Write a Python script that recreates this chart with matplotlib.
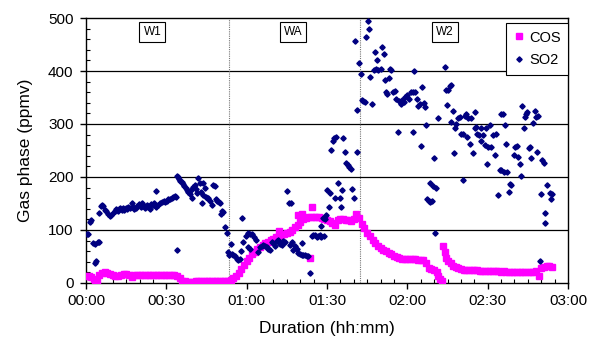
import numpy as np
import matplotlib.pyplot as plt
from matplotlib.ticker import MultipleLocator, FuncFormatter

plt.rcParams['font.family'] = ['Liberation Sans', 'DejaVu Sans']

# COS (time in minutes, ppmv)
cos_t = [0, 1, 2, 3, 3.5, 4, 5, 6, 7, 8, 9, 10, 11, 12, 13, 14, 15, 16, 17, 18,
         19, 20, 21, 22, 23, 24, 25, 26, 27, 28, 29, 30, 31, 32, 33, 34, 35, 36,
         37, 38, 39, 40, 41, 42, 43, 44, 45, 46, 47, 48, 49, 50, 51, 52, 53, 54,
         55, 56, 57, 58, 59, 60, 61, 62, 63, 64, 65, 66, 67, 68, 69, 70, 71, 72,
         73, 74, 75, 76, 77, 78, 79, 80, 81, 82, 83, 84, 85, 86, 87, 88, 89, 90,
         91, 92, 93, 94, 95, 96, 97, 98, 99, 100, 101, 102, 103, 104, 105, 106,
         107, 108, 109, 110, 111, 112, 113, 114, 115, 116, 117, 118, 119, 120,
         121, 122, 123, 124, 125, 126, 127, 128, 129, 130, 131, 131.6, 132.2,
         132.8, 133.4, 134, 134.6, 135.3, 136.2, 137, 138, 139, 140, 141, 142,
         143, 144, 145, 146, 147, 148, 149, 150, 151, 152, 153, 154, 155, 156,
         157, 158, 159, 160, 161, 162, 163, 164, 165, 166, 167, 168, 169, 170,
         171, 172, 173, 174]
cos_v = [13, 13, 12, 8, 5, 4, 15, 19, 20, 18, 17, 15, 13, 14, 16, 17, 17, 16,
         12, 15, 16, 16, 16, 15, 15, 15, 16, 15, 15, 15, 15, 15, 15, 15, 15, 14,
         9, 4, 3, 2, 2, 2, 3, 3, 3, 4, 4, 4, 4, 4, 3, 3, 3, 3, 4, 6, 9, 14, 18,
         26, 34, 42, 47, 55, 59, 65, 68, 72, 75, 78, 81, 83, 86, 89, 91, 92, 94,
         96, 100, 106, 110, 116, 121, 122, 124, 125, 125, 125, 124, 122, 120,
         119, 117, 113, 110, 118, 120, 121, 119, 118, 117, 120, 130, 122, 112,
         103, 95, 88, 81, 75, 70, 66, 63, 60, 57, 54, 51, 49, 47, 46, 45, 45,
         45, 45, 45, 44, 44, 43, 38, 29, 26, 24, 21, 14, 8, 3, 70, 59, 47, 41,
         37, 33, 31, 29, 27, 25, 25, 24, 25, 24, 24, 23, 23, 23, 23, 22, 23, 22,
         22, 21, 22, 21, 21, 21, 20, 21, 20, 20, 20, 21, 21, 21, 22, 13, 29, 30,
         32, 32, 31]
cos_out_t = [72.2, 79.3, 80.8, 83.6, 84.3]
cos_out_v = [99, 128, 130, 47, 143]

# SO2 (time in minutes, ppmv)
so2_t = [0.3, 0.7, 1.5, 2.0, 2.7, 3.2, 3.4, 3.7, 4.3, 4.8, 5.0, 5.6, 6.0, 6.5,
         7.0, 7.6, 8.2, 8.8, 9.5, 10.2, 10.8, 11.3, 11.8, 12.3, 12.8, 13.3,
         13.8, 14.3, 14.8, 15.3, 15.8, 16.4, 17.0, 17.5, 18.0, 18.6, 19.2, 19.8,
         20.4, 21.0, 21.5, 22.0, 22.6, 23.2, 23.8, 24.3, 24.9, 25.5, 26.0, 26.3,
         27.0, 27.6, 28.3, 29.0, 29.6, 30.2, 30.8, 31.4, 32.0, 32.6, 33.2, 33.6,
         34.0,
         33.9, 34.3, 34.7, 35.2, 35.7, 36.2, 36.7, 37.2, 37.7, 38.2, 38.7, 39.2,
         39.6, 40.1, 40.6, 41.1, 41.5, 41.9, 42.4, 42.8, 43.2, 43.6, 43.8, 44.3,
         44.8, 45.3, 45.7, 46.2, 46.9, 47.4, 48.1, 48.5, 49.0, 49.6, 50.1, 50.3,
         50.7, 51.3, 51.9, 52.5, 53.1, 53.5, 54.1, 54.6, 55.0, 55.6, 56.2, 56.9,
         57.4, 57.8, 58.4, 58.7, 59.6, 60.4, 60.4, 61.2, 61.2, 62.1, 62.7, 63.5,
         64.3, 65.0, 65.6, 66.2, 66.8, 67.5, 68.1, 68.7, 69.3, 69.9, 70.6, 71.2,
         71.8, 72.5, 73.1, 73.7, 74.3, 75.2, 75.9, 76.4, 76.2, 76.9, 77.4, 78.1,
         78.7, 79.3, 79.9, 80.5, 80.6, 81.2, 81.8, 82.4, 83.0, 83.6, 84.3, 84.9,
         85.5, 86.1, 86.6, 87.3, 87.6, 87.9, 88.4, 88.9, 89.4, 89.7, 90.1, 90.6,
         91.0, 91.6, 92.2, 92.6, 93.1, 93.5, 94.1, 94.7, 95.1, 95.6, 96.0, 96.6,
         97.2, 97.7, 98.2, 98.8, 99.4, 100.1, 100.4, 101.1, 101.3, 102.1, 102.6,
         103.1, 103.6, 104.1, 104.6, 105.3, 105.6, 106.2, 106.8, 107.5, 108.0,
         108.3, 108.7, 109.2, 110.0, 110.5, 111.2, 111.5, 111.9, 112.5, 113.0,
         113.4, 114.0, 114.6, 115.3, 115.9, 116.5, 116.8, 117.5, 118.0, 118.7,
         119.2, 120.0, 120.5, 121.2, 122.1, 122.1, 122.5, 123.0, 123.5, 124.0,
         124.6, 125.0, 125.5, 126.2, 126.5, 127.1, 127.5, 128.0, 128.3, 128.6,
         129.1, 129.6, 130.0, 130.5, 130.8, 131.4, 133.9, 134.5, 134.9, 135.2,
         135.8, 136.2, 136.4, 137.0, 137.4, 137.7, 138.3, 138.9, 139.5, 140.1,
         140.8, 140.8, 141.4, 142.0, 142.4, 142.6, 143.3, 143.9, 144.5, 145.1,
         145.4, 145.8, 146.1, 146.6, 147.4, 147.6, 148.2, 148.9, 149.5, 149.9,
         150.1, 150.7, 151.4, 152.0, 152.6, 153.2, 153.8, 154.5, 154.8, 155.1,
         155.7, 156.1, 156.3, 156.9, 157.3, 157.8, 158.2, 158.8, 159.8, 160.3,
         160.8, 161.3, 161.9, 162.3, 162.8, 163.6, 164.0, 164.4, 164.8, 165.3,
         165.8, 166.3, 166.9, 167.5, 168.2, 168.3, 168.8, 169.4, 169.8, 170.3,
         171.0, 171.3, 171.5, 172.3, 173.1, 173.5, 174.0]
so2_v = [92, 93, 116, 118, 76, 74, 38, 42, 77, 78, 132, 145, 148, 146, 138,
         136, 130, 126, 128, 132, 135, 139, 136, 140, 141, 138, 142, 137, 142,
         140, 144, 141, 151, 143, 139, 142, 146, 149, 144, 150, 146, 141, 147,
         143, 140, 149, 147, 151, 143, 173, 148, 150, 152, 154, 153, 155, 158,
         159, 161, 162, 164, 162, 62,
         202, 200, 197, 193, 190, 186, 183, 180, 176, 172, 168, 175, 160, 182,
         185, 178, 170, 198, 188, 172, 150, 166, 189, 180, 163, 161, 160, 155,
         148, 185, 183, 158, 155, 152, 150, 131, 136, 134, 106, 94, 59, 53, 74,
         55, 53, 50, 46, 44, 45, 61, 122, 78, 89, 94, 68, 93, 65, 93, 87, 81, 59,
         68, 70, 72, 70, 68, 65, 62, 78, 75, 70, 80, 81, 74, 72, 80, 78, 174,
         150, 150, 72, 77, 62, 70, 64, 56, 54, 75, 53, 53, 52, 50, 50, 18, 88,
         91, 90, 86, 89, 91, 108, 87, 122, 89, 120, 128, 175, 144, 169, 251,
         267, 273, 160, 276, 188, 160, 144, 175, 273, 248, 226, 222, 219, 216,
         177, 160, 457, 326, 247, 415, 394, 345, 343, 342, 465, 495, 480, 389,
         338, 402, 436, 403, 421, 402, 403, 445, 433, 383, 361, 356, 387, 403,
         402, 361, 363, 347, 285, 344, 338, 345, 342, 350, 355, 347, 361, 361,
         284, 400, 361, 347, 334, 338, 258, 369, 340, 333, 299, 158, 154, 188,
         152, 155, 183, 236, 95, 179, 312, 407, 364, 336, 365, 372, 374, 304,
         325, 246, 292, 300, 311, 313, 282, 282, 194, 315, 319, 275, 311, 262,
         311, 245, 292, 323, 295, 282, 279, 267, 292, 279, 260, 292, 225, 257,
         298, 257, 279, 242, 281, 166, 214, 319, 213, 319, 210, 298, 262, 210,
         172, 187, 185, 242, 257, 258, 238, 225, 202, 334, 292, 313, 319, 323,
         254, 257, 235, 302, 325, 314, 248, 315, 42, 168, 232, 227, 133, 113,
         185, 169, 158, 168]

# window markers and their labels
window_lines = [53.4, 102.3]
window_names = ['W1', 'WA', 'W2']
window_pos = [24.8, 77.3, 134.1]

fig = plt.figure(figsize=(5.9, 3.39), dpi=100)
ax = fig.add_axes([0.1458, 0.1652, 0.8169, 0.7817])

for y in [100, 200, 300, 400]:
    ax.axhline(y, color='black', lw=0.9, zorder=1)
for x in window_lines:
    ax.axvline(x, color='#777777', lw=0.8, ls=(0, (1, 1)), zorder=1)

ax.plot(cos_t, cos_v, ls='none', marker='s', ms=4.1, color='#FF00FF',
        mec='#FF00FF', label='COS', zorder=3)
ax.plot(cos_out_t, cos_out_v, ls='none', marker='s', ms=4.1, color='#FF00FF',
        zorder=3)
ax.plot(so2_t, so2_v, ls='none', marker='D', ms=2.7, color='#000080',
        mec='#000080', label='SO2', zorder=4)

for name, x in zip(window_names, window_pos):
    ax.text(x, 474, name, ha='center', va='center', fontsize=8.5,
            bbox=dict(boxstyle='square,pad=0.35', fc='white', ec='black', lw=0.8))

ax.set_xlim(0, 180)
ax.set_ylim(0, 500)
ax.xaxis.set_major_locator(MultipleLocator(30))
ax.xaxis.set_minor_locator(MultipleLocator(5))
ax.yaxis.set_major_locator(MultipleLocator(100))
ax.yaxis.set_minor_locator(MultipleLocator(20))
ax.xaxis.set_major_formatter(FuncFormatter(lambda v, p: '%02d:%02d' % (v // 60, v % 60)))
ax.tick_params(which='major', direction='out', length=4, width=1, labelsize=11)
ax.tick_params(axis='y', which='major', pad=5)
ax.tick_params(axis='x', which='major', pad=4)
ax.tick_params(which='minor', direction='in', length=3, width=0.8)
for s in ax.spines.values():
    s.set_linewidth(1)

ax.set_xlabel('Duration (hh:mm)', fontsize=12.5, labelpad=9)
ax.set_ylabel('Gas phase (ppmv)', fontsize=12.5, labelpad=11)

leg = ax.legend(loc='upper right', bbox_to_anchor=(1.0, 0.98), borderaxespad=0,
                fancybox=False, edgecolor='black', framealpha=1, fontsize=10.5,
                handlelength=0.8, handletextpad=0.3, borderpad=0.5,
                labelspacing=0.6)
leg.get_frame().set_linewidth(0.8)

fig.savefig('out.png', dpi=100)
